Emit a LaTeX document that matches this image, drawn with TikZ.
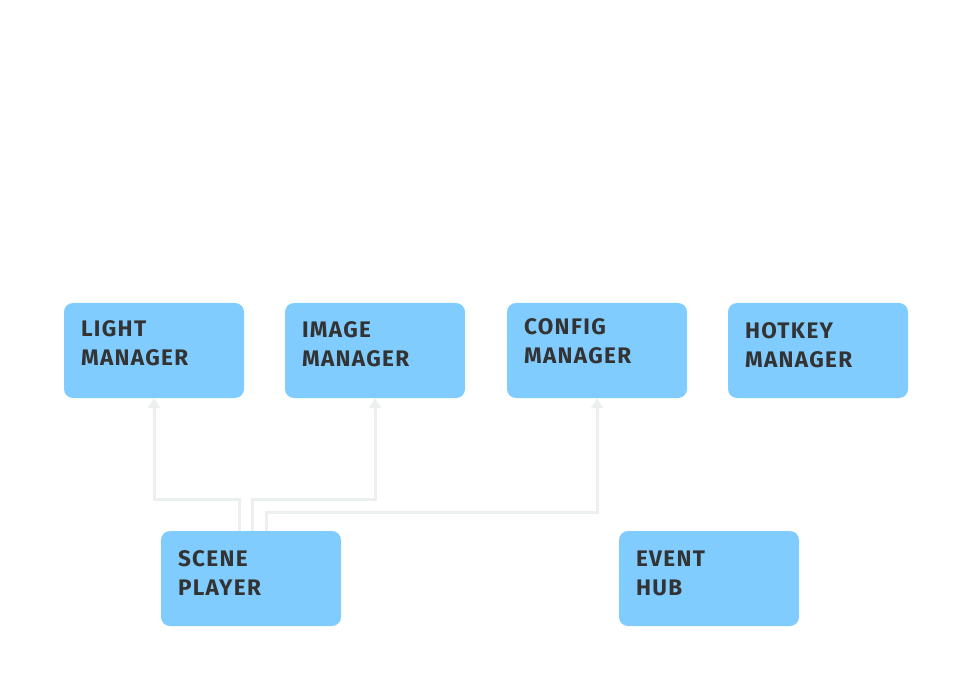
\documentclass[tikz,border=0pt]{standalone}
\usepackage{fontspec}
\setmainfont{Fira Sans}
\newfontfamily\modfont[LetterSpace=6]{Fira Sans}
\usepackage{tikz}
\usetikzlibrary{calc,positioning,arrows.meta}

\definecolor{boxblue}{HTML}{80CCFF}
\definecolor{textgray}{HTML}{333333}
\definecolor{linkgray}{HTML}{ECEFF0}

\tikzset{
	module/.style={rectangle, rounded corners=9pt, fill=boxblue, draw=none,
		minimum width=180pt, minimum height=95pt, inner sep=0pt},
	modlabel/.style={anchor=north west, inner sep=0pt, align=left, text=textgray,
		font=\modfont\bfseries\fontsize{22.5}{29}\selectfont},
	link/.style={draw=linkgray, line width=3pt, -{Triangle[width=12pt,length=10pt]}}
}

\begin{document}
\begin{tikzpicture}[x=1pt,y=1pt]
			\useasboundingbox (0,0) rectangle (960,-700);
			\foreach \name/\x/\y/\dy/\top/\bottom in {
				light/154/-350.5/18/LIGHT/MANAGER,
				image/375/-350.5/19/IMAGE/MANAGER,
				config/597/-350.5/16/CONFIG/MANAGER,
				hotkey/818/-350.5/20/HOTKEY/MANAGER,
				scene/251/-578.5/19.5/SCENE/PLAYER,
				hub/709/-578.5/19.5/EVENT/HUB} {
				\node[module] (\name) at (\x,\y) {};
				\node[modlabel] (\name-text) at ($(\name.north west)+(17,-\dy)$) {\top\\\bottom};
			};
			\draw[link] ([xshift=-12pt]scene.north) -- ++(0,31) -| (light.south);
			\draw[link] ([xshift=1pt]scene.north) -- ++(0,31) -| (image.south);
			\draw[link] ([xshift=15pt]scene.north) -- ++(0,18) -| (config.south);
		\end{tikzpicture}
\end{document}
